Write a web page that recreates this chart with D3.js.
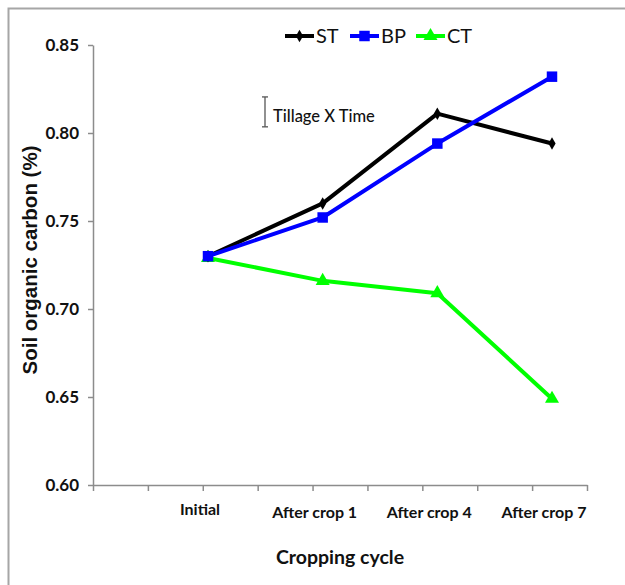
<!DOCTYPE html>
<html>
<head>
<meta charset="utf-8">
<script src="https://cdn.jsdelivr.net/npm/d3@7"></script>
<style>
  body { margin: 0; background: #fff; }
  text { font-family: Lato, "DejaVu Sans Condensed", sans-serif; }
</style>
</head>
<body>
<svg></svg>
<script>
// chart data
const categories = ['Initial', 'After crop 1', 'After crop 4', 'After crop 7']
const seriesNames = ['ST', 'BP', 'CT']
const stValues = [0.730, 0.760, 0.811, 0.794]
const bpValues = [0.730, 0.752, 0.794, 0.832]
const ctValues = [0.729, 0.716, 0.709, 0.649]
const yTicks = [0.60, 0.65, 0.70, 0.75, 0.80, 0.85]
const lsdValue = 0.017      // Tillage X Time error bar length
const lsdCenter = 0.812

const width = 625
const height = 585
const plotLeft = 93, plotRight = 587, plotTop = 45, plotBottom = 485

const svg = d3.select('svg')
    .attr('width', width)
    .attr('height', height)

// outer frame
svg.append('rect')
    .attr('x', 8.5).attr('y', 8.5)
    .attr('width', 640).attr('height', 600)
    .attr('fill', 'none')
    .attr('stroke', '#a6a6a6')
    .attr('stroke-width', 2)

// scales
const yScale = d3.scaleLinear()
    .domain([0.60, 0.85])
    .range([plotBottom, plotTop])

const xTickScale = d3.scaleLinear()
    .domain([0, 9])
    .range([plotLeft, plotRight])

const xScale = d3.scalePoint()
    .domain(categories)
    .range([plotLeft + 115, plotLeft + 459])

// axes
const yAxis = d3.axisLeft(yScale)
    .tickValues(yTicks)
    .tickFormat(d3.format('.2f'))
    .tickSize(5)
    .tickSizeOuter(0)
    .tickPadding(9)

const gy = svg.append('g')
    .attr('transform', 'translate(' + plotLeft + ',0)')
    .call(yAxis)
gy.select('.domain').attr('stroke', '#8c8c8c').attr('stroke-width', 1.5)
gy.selectAll('.tick line').attr('stroke', '#8c8c8c').attr('stroke-width', 1.5)
gy.selectAll('.tick text')
    .attr('font-family', 'Lato, "DejaVu Sans Condensed", sans-serif')
    .attr('font-size', 17)
    .attr('font-weight', 'bold')
    .attr('fill', '#111')

const xAxis = d3.axisBottom(xTickScale)
    .tickValues(d3.range(10))
    .tickFormat('')
    .tickSize(6)
    .tickSizeOuter(0)

const gx = svg.append('g')
    .attr('transform', 'translate(0,' + plotBottom + ')')
    .call(xAxis)
gx.select('.domain').attr('stroke', '#8c8c8c').attr('stroke-width', 1.5)
gx.selectAll('.tick line').attr('stroke', '#8c8c8c').attr('stroke-width', 1.5)

// category labels
svg.selectAll('.cat')
    .data(categories)
    .enter()
    .append('text')
    .attr('class', 'cat')
    .attr('x', d => xScale(d) - 8)
    .attr('y', (d, i) => i == 0 ? 515 : 518)
    .attr('text-anchor', 'middle')
    .attr('font-size', 16)
    .attr('font-weight', 'bold')
    .attr('fill', '#111')
    .text(d => d)

// axis titles
svg.append('text')
    .attr('x', 340)
    .attr('y', 564)
    .attr('text-anchor', 'middle')
    .attr('font-size', 19.5)
    .attr('font-weight', 'bold')
    .attr('fill', '#111')
    .text('Cropping cycle')

svg.append('text')
    .attr('transform', 'translate(37,260) rotate(-90)')
    .attr('text-anchor', 'middle')
    .style('font-family', 'Arial, "Liberation Sans", sans-serif')
    .attr('font-size', 20.5)
    .attr('font-weight', 'bold')
    .attr('fill', '#111')
    .text('Soil organic carbon (%)')

// error bar
const ebX = 265
const ebG = svg.append('g').attr('stroke', '#555').attr('stroke-width', 1.3)
ebG.append('line')
    .attr('x1', ebX).attr('x2', ebX)
    .attr('y1', yScale(lsdCenter + lsdValue / 2))
    .attr('y2', yScale(lsdCenter - lsdValue / 2))
ebG.selectAll('.cap')
    .data([lsdCenter + lsdValue / 2, lsdCenter - lsdValue / 2])
    .enter()
    .append('line')
    .attr('x1', ebX - 3).attr('x2', ebX + 3)
    .attr('y1', d => yScale(d)).attr('y2', d => yScale(d))

svg.append('text')
    .attr('x', 273)
    .attr('y', 122)
    .attr('font-size', 16.5)
    .attr('font-weight', 500)
    .attr('fill', '#111')
    .text('Tillage X Time')

// series
const series = [
    { name: seriesNames[0], values: stValues, color: '#000000', symbol: d3.symbolDiamond, size: 45 },
    { name: seriesNames[1], values: bpValues, color: '#0000ff', symbol: d3.symbolSquare, size: 110 },
    { name: seriesNames[2], values: ctValues, color: '#00ff00', symbol: d3.symbolTriangle, size: 85 }
]

const line = d3.line()
    .x((d, i) => xScale(categories[i]))
    .y(d => yScale(d))

// draw CT first so ST/BP sit over it like the reference at Initial
const drawOrder = [series[2], series[0], series[1]]
drawOrder.forEach(s => {
    svg.append('path')
        .datum(s.values)
        .attr('d', line)
        .attr('fill', 'none')
        .attr('stroke', s.color)
        .attr('stroke-width', 4)
        .attr('stroke-linejoin', 'round')

    svg.selectAll(null)
        .data(s.values)
        .enter()
        .append('path')
        .attr('d', d3.symbol().type(s.symbol).size(s.size))
        .attr('transform', (d, i) => 'translate(' + xScale(categories[i]) + ',' + yScale(d) + ')')
        .attr('fill', s.color)
})

// legend
const legendX = [285, 350, 416]
const legend = svg.selectAll('.legend')
    .data(series)
    .enter()
    .append('g')
    .attr('class', 'legend')
    .attr('transform', (d, i) => 'translate(' + legendX[i] + ',36)')

legend.append('line')
    .attr('x1', 0).attr('x2', 29)
    .attr('stroke', d => d.color)
    .attr('stroke-width', 4)

legend.append('path')
    .attr('d', d => d3.symbol().type(d.symbol).size(d.size)())
    .attr('transform', 'translate(14.5,0)')
    .attr('fill', d => d.color)

legend.append('text')
    .attr('x', 31)
    .attr('y', 7)
    .attr('font-size', 20)
    .attr('fill', '#111')
    .text(d => d.name)
</script>
</body>
</html>
